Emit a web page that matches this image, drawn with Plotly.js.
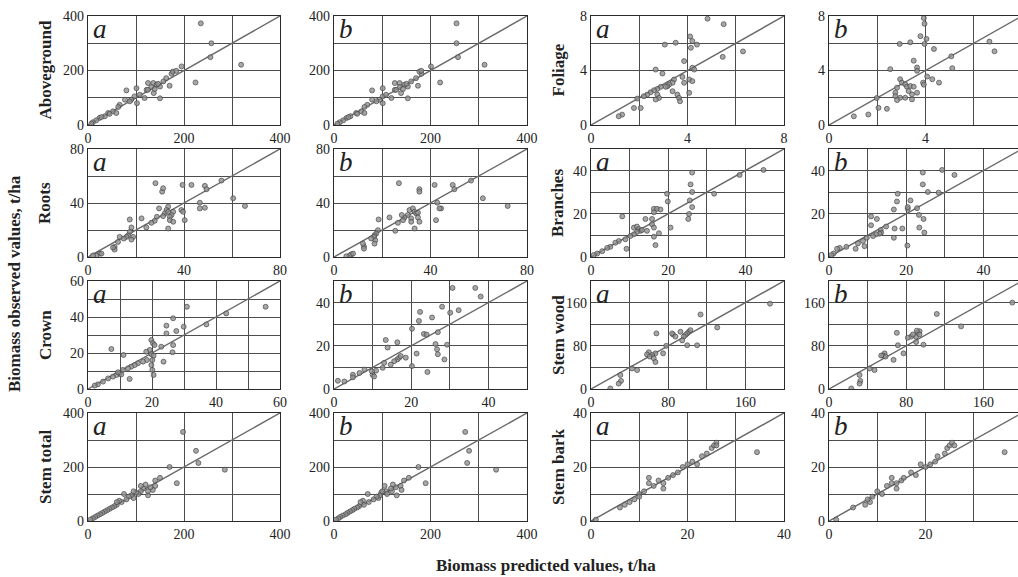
<!DOCTYPE html>
<html>
<head>
<meta charset="utf-8">
<script src="https://cdn.plot.ly/plotly-3.0.1.min.js"></script>
<style>
html,body{margin:0;padding:0;overflow:hidden;background:#fff;}
#chart{width:1024px;height:577px;}
</style>
</head>
<body>
<div id="chart"></div>
<script>
// ---------- DATA ----------
const rowNames = ['Aboveground', 'Foliage', 'Roots', 'Branches', 'Crown', 'Stem wood', 'Stem total', 'Stem bark'];
const panelLetters = ['a', 'b', 'a', 'b', 'a', 'b', 'a', 'b', 'a', 'b', 'a', 'b', 'a', 'b', 'a', 'b'];
const axisMax = [400, 400, 8, 8, 80, 80, 50, 50, 60, 50, 200, 200, 400, 400, 40, 40];
const tickStep = [200, 200, 4, 4, 40, 40, 20, 20, 20, 20, 80, 80, 200, 200, 20, 20];
const gridStep = [100, 100, 2, 2, 20, 20, 10, 10, 10, 10, 40, 40, 100, 100, 10, 10];
const xTitle = 'Biomass predicted values, t/ha';
const yTitle = 'Biomass observed values, t/ha';

const aboveA_x = [235,257,255,319,224,195,174,170,157,150,150,137,125,136,143,122,118,101,97,102,108,80,77,66,63,52,42,35,24,17,10,7,59,90,163,177,184,132,139,28,45,87,125,146];
const aboveA_y = [373,300,249,221,156,215,188,144,160,141,98,117,154,154,148,129,99,135,105,80,111,127,93,74,66,50,44,32,26,17,10,5,44,93,172,196,199,139,132,29,41,87,129,151];
const aboveB_x = [254,254,257,312,220,201,181,174,160,153,153,139,126,136,146,126,119,101,101,101,108,79,79,69,63,57,46,34,26,19,12,7,63,94,170,177,181,136,143,30,48,88,129,150];
const aboveB_y = [373,300,249,221,156,215,188,144,160,141,98,117,154,154,148,129,99,135,105,80,111,127,93,74,66,50,44,32,26,17,10,5,44,93,172,196,199,139,132,29,41,87,129,151];

const foliageA_x = [4.83,5.5,6.3,5.46,3.51,3.06,4.11,4.2,4.39,4.14,3.86,4.2,4.28,2.68,2.96,3.79,3.44,3.38,3.24,3.17,3.1,2.89,2.75,2.61,2.47,2.33,2.75,2.82,2.68,3.38,3.58,3.65,3.69,4.07,4.07,1.92,2.19,1.78,2.06,1.29,1.15,3.86,4.2];
const foliageA_y = [7.8,7.4,5.4,5.0,6.04,5.9,6.5,6.16,5.9,5.67,4.69,4.2,4.07,4.07,3.78,3.53,3.34,3.1,2.97,2.85,2.8,2.8,2.65,2.55,2.4,2.23,2.23,1.99,1.87,2.48,2.23,1.99,1.74,2.36,3.34,1.94,2.11,1.25,1.25,0.76,0.64,3.1,3.22];
const foliageB_x = [3.93,3.96,6.65,6.86,5.07,5.11,3.79,4.04,3.96,4.35,2.93,3.37,3.51,2.54,3.65,3.65,4.07,4.28,4.56,3.9,2.95,3.02,3.16,3.23,3.37,3.51,2.82,2.75,2.75,2.95,3.16,3.44,3.44,3.65,2.82,1.98,2.05,2.4,1.63,1.03,3.93,3.3];
const foliageB_y = [7.85,7.43,6.12,5.41,5.04,4.17,6.52,6.32,5.95,5.58,5.95,6.07,4.72,4.1,4.22,3.98,3.56,3.36,3.11,3.11,3.36,3.11,2.99,2.81,2.86,2.81,2.74,2.37,2.12,2.0,2.0,1.88,2.25,2.37,1.83,1.98,1.26,1.19,0.77,0.64,2.96,2.49];

const rootsA_x = [28.1,30.9,31.3,39.4,43.1,48.7,49.4,55.6,60.5,65.4,46.6,46.6,48.7,38.9,40.3,35.5,34.8,34.1,33.4,32.7,32.0,33.4,34.1,33.4,35.5,31.3,29.6,28.7,27.8,26.4,24.3,22.3,17.4,18.1,17.4,16.7,16.0,14.9,18.8,18.1,13.2,12.5,11.1,11.1,10.4,4.9,3.5,2.1,5.6,39.6];
const rootsA_y = [54.7,48.4,50.9,53.4,53.4,52.7,50.2,56.6,43.5,37.8,40.2,36,36.5,34.8,27.3,33.5,31.1,29.8,37.3,34.8,32.3,33.5,27.3,21.1,26.1,30.3,36,29.8,26.8,25.3,21.9,28.6,27.8,21.9,18.6,16.1,14.9,13.7,14.9,12.9,14.9,11.2,7.5,5.5,7.0,2.5,1.2,1.2,2.5,33.5];
const rootsB_x = [26.9,35.4,35.4,41.7,49.2,49.9,56.8,61.7,72.0,44.4,43.7,42.8,42.3,32.0,30.6,31.3,32.7,33.4,34.1,34.8,35.4,33.4,32.0,29.2,28.6,28.1,26.5,25.4,23.0,18.5,18.2,17.5,16.8,16.6,17.1,16.8,15.4,12.4,12.4,12.0,7.2,6.5,5.1,7.9,34.8];
const rootsB_y = [54.7,50.2,48.4,53.4,53.4,50.2,56.6,43.5,37.8,36,36,40.2,27.3,28.6,31.1,34.8,36,33.5,32.3,32.8,26.1,21.1,26.1,29.3,27.3,31.1,25.3,19.4,29.3,27.8,19.9,17.4,16.1,14.9,12.4,9.9,13.7,7.9,6.2,9.9,2.0,1.2,0.5,2.5,29.3];

const branchesA_x = [26.2,44.7,38.5,31.9,26.2,25.8,25.6,26.2,25.4,25.2,19.7,19.9,16.3,17.1,18.0,16.3,14.1,15.8,16.3,20.6,17.6,16.3,16.7,8.1,11.1,11.9,12.4,12.8,13.2,11.9,11.1,10.2,8.9,9.2,7.2,6.3,5.0,4.2,2.9,1.6,0.7,15.8,14.5];
const branchesA_y = [39.1,40.3,38.0,29.3,30.1,33.6,26.2,23.1,19.9,17.6,29.3,25.7,22.3,22.3,22.0,20.7,17.6,15.2,13.6,13.6,11.0,9.4,5.5,18.8,13.6,14.1,12.9,12.1,12.5,11.6,10.5,9.7,8.2,3.8,7.4,6.6,4.7,4.2,2.7,1.6,0.9,17.6,12.1];
const branchesB_x = [24.3,29.3,32.5,28.4,25.6,24.3,21.1,22.8,23.3,24.5,24.7,23.4,17.8,17.6,20.4,20.4,16.8,10.9,10.9,12.4,17.0,19.0,16.8,20.3,14.8,13.4,13.5,13.1,12.2,11.4,9.8,8.8,7.5,9.2,6.9,4.5,2.8,2.1,1.2,0.6];
const branchesB_y = [39.1,40.3,38.0,29.8,30.1,33.6,26.2,22.6,19.5,17.6,11.3,13.6,29.3,25.7,22.3,23.1,22.0,18.8,14.7,17.6,13.2,13.2,8.9,5.3,14.1,12.5,11.3,10.8,10.5,9.7,8.9,7.4,6.3,5.0,3.8,4.7,4.2,3.8,1.6,0.9];

const crownA_x = [30.9,55.5,43.2,37.0,26.6,24.5,29.9,27.6,24.5,26.6,26.4,23.6,22.9,19.8,20.3,20.8,19.3,19.8,20.5,20.1,19.8,20.1,20.5,18.2,18.4,17.2,15.6,14.6,13.5,12.5,11.1,7.3,10.9,9.9,8.9,7.8,6.3,4.7,3.1,2.1,13.0,10.4,9.4];
const crownA_y = [45.7,45.7,42.0,35.9,39.3,35.2,34.6,32.2,30.9,24.4,20.4,15.2,23.5,27.2,25.4,24.4,21.7,19.3,18.5,16.1,13.3,10.6,7.8,20.7,16.1,15.2,14.3,13.3,12.4,11.5,18.9,22.2,10.6,8.7,7.8,6.9,5.9,4.1,2.6,1.9,5.6,8.1,9.3];
const crownB_x = [30.7,36.6,38.0,28.0,32.3,30.1,22.3,25.4,22.0,20.2,23.3,24.0,26.9,26.3,26.7,26.9,28.6,29.3,21.4,20.2,24.2,13.4,13.9,16.4,16.4,16.9,17.3,15.6,14.7,13.0,12.6,10.9,10.0,10.4,7.9,6.6,4.9,4.9,2.7,1.0,18.6,9.8];
const crownB_y = [46.8,46.8,42.8,38.1,36.5,35.3,35.7,33.1,31.5,27.9,25.5,25.2,26.3,20.8,18.4,16.1,13.7,20.5,16.4,10.6,7.9,22.7,19.2,21.6,13.7,14.5,15.3,12.9,11.3,12.1,9.8,8.5,6.6,5.8,9.0,7.4,6.6,5.4,3.5,3.8,14.5,8.2];

const stemWoodA_x = [185.5,113.5,130.8,67.8,110,99.7,101.4,99.7,98,96.2,94.5,85,84,87.5,78,74.7,66.8,63.3,59.9,58,60.9,65,66.8,47.8,42.5,30.4,31.1,28.7,20,92.7,103];
const stemWoodA_y = [158,138,114,103,81,81,106,103,100,97,90,101,103,97,80,66,66,63,68,64,60,57,50,35,38,26,15,10,1,106,109];
const stemWoodB_x = [190,111.7,136.9,70.3,97.9,90.3,90.3,92,93.8,91,85.2,81.7,71.4,77.2,66.9,57.6,55.9,58.6,54.1,47.2,42,31.7,32.4,31.7,23.1,86.9,93.8];
const stemWoodB_y = [160,139,116,104,82,87,97,104,107,108,97,95,81,66,54,66,62,60,62,35,38,26,15,10,1,101,101];

const stemTotalA_x = [198,225,230,285,185,170,150,140,135,130,125,120,115,110,105,100,95,90,85,80,75,70,65,60,55,50,45,40,35,30,25,20,15,10,5,125,140,110,95,60];
const stemTotalA_y = [330,260,215,190,140,200,160,130,115,125,110,135,120,110,100,105,85,95,90,80,100,70,75,60,55,50,45,40,35,30,25,20,15,10,5,95,150,130,110,70];
const stemTotalB_x = [272,280,276,336,190,175,155,138,140,128,120,122,118,108,110,98,92,95,88,82,70,72,60,62,52,48,42,38,33,28,24,18,13,9,4,130,145,105,100,55];
const stemTotalB_y = [330,260,215,190,140,200,160,130,115,125,110,135,120,110,100,105,85,95,90,80,100,70,75,60,55,50,45,40,35,30,25,20,15,10,5,95,150,130,110,70];

const stemBarkA_x = [1,6,7,8,9,10,11,12,13,14,15,16,17,18,19,20,21,22,23,24,25,25.5,26,26,34.4,10,12,15];
const stemBarkA_y = [0.5,5,6,7,8,10,11,14,13,15,12,16,17,18,20,21,22,21,24,25,27,28,29,28,25.5,9,16,14];
const stemBarkB_x = [1.5,5,7.5,8.5,8,11,10,13,12,15,14,15.5,18,17,20,19,22,21,22.5,24,24.5,25,25.5,26,36.4,9,13,14];
const stemBarkB_y = [0.5,5,6,7,8,10,11,14,13,15,12,16,17,18,20,21,22,21,24,25,27,28,29,28,25.5,9,16,14];

const panelX = [aboveA_x, aboveB_x, foliageA_x, foliageB_x, rootsA_x, rootsB_x, branchesA_x, branchesB_x,
  crownA_x, crownB_x, stemWoodA_x, stemWoodB_x, stemTotalA_x, stemTotalB_x, stemBarkA_x, stemBarkB_x];
const panelY = [aboveA_y, aboveB_y, foliageA_y, foliageB_y, rootsA_y, rootsB_y, branchesA_y, branchesB_y,
  crownA_y, crownB_y, stemWoodA_y, stemWoodB_y, stemTotalA_y, stemTotalB_y, stemBarkA_y, stemBarkB_y];

// ---------- LAYOUT ----------
const W = 1024, H = 577;
const colLeft = [88, 334, 591, 829];
const colWidth = [192, 193, 193, 193];
const rowTop = [16, 149, 281, 413];
const rowHeight = [109, 108, 108, 108];
const serif = 'Liberation Serif, Times New Roman, serif';

const traces = [];
const layout = {
  width: W, height: H,
  margin: {l: 0, r: 0, t: 0, b: 0},
  paper_bgcolor: '#fff', plot_bgcolor: '#fff',
  showlegend: false,
  annotations: []
};

for (let i = 0; i < 16; i++) {
  const r = Math.floor(i / 4), c = i % 4;
  const sfx = i === 0 ? '' : String(i + 1);
  const l = colLeft[c], w = colWidth[c], t = rowTop[r], h = rowHeight[r];
  const axCommon = {
    range: [0, axisMax[i]],
    tick0: 0, dtick: tickStep[i],
    showgrid: true, gridcolor: '#4d4d4d', gridwidth: 1,
    minor: {tick0: 0, dtick: gridStep[i], showgrid: true, gridcolor: '#4d4d4d', gridwidth: 1, ticks: ''},
    showline: true, linecolor: '#2a2a2a', linewidth: 1.2, mirror: true,
    zeroline: false, ticks: '',
    tickfont: {family: serif, size: 14, color: '#222'},
    fixedrange: true
  };
  layout['xaxis' + sfx] = Object.assign({}, axCommon, {
    domain: [l / W, (l + w) / W], anchor: 'y' + sfx
  });
  layout['yaxis' + sfx] = Object.assign({}, axCommon, {
    domain: [1 - (t + h) / H, 1 - t / H], anchor: 'x' + sfx
  });
  // diagonal 1:1 line
  traces.push({
    x: [0, axisMax[i]], y: [0, axisMax[i]],
    xaxis: 'x' + sfx, yaxis: 'y' + sfx,
    mode: 'lines', line: {color: '#6a6a6a', width: 1.5},
    hoverinfo: 'skip'
  });
  traces.push({
    x: panelX[i], y: panelY[i],
    xaxis: 'x' + sfx, yaxis: 'y' + sfx,
    mode: 'markers', type: 'scatter',
    marker: {size: 5, color: 'rgba(145,145,145,0.8)', line: {color: 'rgba(70,70,70,0.85)', width: 0.8}},
    cliponaxis: true
  });
  layout.annotations.push({
    text: '<i>' + panelLetters[i] + '</i>',
    xref: 'paper', yref: 'paper',
    x: (l + 3) / W, y: 1 - (t - 4) / H,
    xanchor: 'left', yanchor: 'top',
    showarrow: false,
    font: {family: serif, size: 27, color: '#222'}
  });
  if (c === 0 || c === 2) {
    layout.annotations.push({
      text: '<b>' + rowNames[r * 2 + (c === 2 ? 1 : 0)] + '</b>',
      xref: 'paper', yref: 'paper',
      x: (c === 0 ? 45 : 558) / W, y: 1 - (t + h / 2) / H,
      xanchor: 'center', yanchor: 'middle',
      textangle: -90, showarrow: false,
      font: {family: serif, size: 17, color: '#222'}
    });
  }
}

layout.annotations.push({
  text: '<b>' + yTitle + '</b>', xref: 'paper', yref: 'paper',
  x: 14 / W, y: 1 - 284 / H, xanchor: 'center', yanchor: 'middle',
  textangle: -90, showarrow: false,
  font: {family: serif, size: 17, color: '#222'}
});
layout.annotations.push({
  text: '<b>' + xTitle + '</b>', xref: 'paper', yref: 'paper',
  x: 546 / W, y: 1 - 565 / H, xanchor: 'center', yanchor: 'middle',
  showarrow: false,
  font: {family: serif, size: 17, color: '#222'}
});

Plotly.newPlot('chart', traces, layout, {displayModeBar: false, staticPlot: true});
</script>
</body>
</html>
